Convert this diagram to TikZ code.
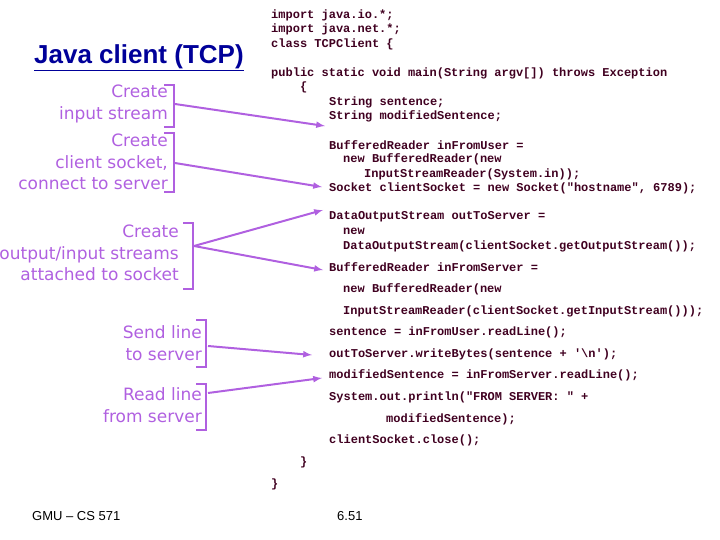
\documentclass[tikz,border=0pt]{standalone}
\usepackage{fontspec}
\setmainfont{Liberation Sans}
\newfontfamily\codef{Liberation Mono}
\newfontfamily\lblf{DejaVu Sans}
\definecolor{lblc}{RGB}{176,96,224}
\definecolor{codec}{RGB}{64,0,32}
\begin{document}
\begin{tikzpicture}[x=1pt,y=-1pt,
 code/.style={anchor=west,inner sep=0,font=\codef\bfseries\fontsize{12}{12}\selectfont,text=codec},
 lbl/.style={anchor=east,inner sep=0,align=right,font=\lblf\fontsize{17}{21.5}\selectfont,text=lblc},
 br/.style={draw=lblc,line width=2.5pt},
 arr/.style={draw=lblc,line width=2pt,-latex}]
\useasboundingbox (0,0) rectangle (720,540);
\node[anchor=west,inner sep=0,text=blue!60!black,font=\bfseries\fontsize{26}{30}\selectfont] (title) at (34,58) {\underline{Java client (TCP)}};
\foreach \t/\x/\y [count=\i] in {
 {import java.io.*;}/271/15,
 {import java.net.*;}/271/29,
 {class TCPClient \{}/271/44,
 {public static void main(String argv[]) throws Exception}/271/73,
 {\{}/300/87,
 {String sentence;}/329/102,
 {String modifiedSentence;}/329/116,
 {BufferedReader inFromUser =}/329/145,
 {new BufferedReader(new}/343/159,
 {InputStreamReader(System.in));}/364/174,
 {Socket clientSocket = new Socket("hostname", 6789);}/329/188,
 {DataOutputStream outToServer =}/329/217,
 {new}/343/231,
 {DataOutputStream(clientSocket.getOutputStream());}/343/246,
 {BufferedReader inFromServer =}/329/267,
 {new BufferedReader(new}/343/289,
 {InputStreamReader(clientSocket.getInputStream()));}/343/311,
 {sentence = inFromUser.readLine();}/329/332,
 {outToServer.writeBytes(sentence + '\textbackslash n');}/329/354,
 {modifiedSentence = inFromServer.readLine();}/329/375,
 {System.out.println("FROM SERVER: " +}/329/397,
 {modifiedSentence);}/386/419,
 {clientSocket.close();}/329/440,
 {\}}/300/462,
 {\}}/271/484}
 \node[code] (c\i) at (\x,\y) {\t};
% labels
\node[lbl] (l1) at (168,104) {Create\\input stream};
\node[lbl] (l2) at (168,162) {Create\\client socket,\\connect to server};
\node[lbl] (l3) at (179,253) {Create\\output/input streams\\attached to socket};
\node[lbl] (l4) at (202,343) {Send line\\to server};
\node[lbl] (l5) at (202,405) {Read line\\from server};
\draw[br] (164,85)--(174,85)--(174,127)--(164,127);
\draw[br] (164,133)--(174,133)--(174,192)--(164,192);
\draw[br] (183,223)--(193,223)--(193,289)--(183,289);
\draw[br] (196,320)--(206,320)--(206,367)--(196,367);
\draw[br] (196,384)--(206,384)--(206,430)--(196,430);
\coordinate (b1) at (175,104); \coordinate (t1) at (325,126);
\coordinate (b2) at (175,163); \coordinate (t2) at (322,187);
\coordinate (b3) at (194,246); \coordinate (t3a) at (323,210); \coordinate (t3b) at (323,270);
\coordinate (b4) at (208,346); \coordinate (t4) at (312,355);
\coordinate (b5) at (208,393); \coordinate (t5) at (322,378);
\draw[arr] (b1)--(t1); \draw[arr] (b2)--(t2);
\draw[arr] (b3)--(t3a); \draw[arr] (b3)--(t3b);
\draw[arr] (b4)--(t4); \draw[arr] (b5)--(t5);
\node[anchor=west,inner sep=0,font=\fontsize{13}{14}\selectfont] (f1) at (32,516) {GMU -- CS 571};
\node[anchor=west,inner sep=0,font=\fontsize{13}{14}\selectfont] (f2) at (337,516) {6.51};
\end{tikzpicture}
\end{document}
